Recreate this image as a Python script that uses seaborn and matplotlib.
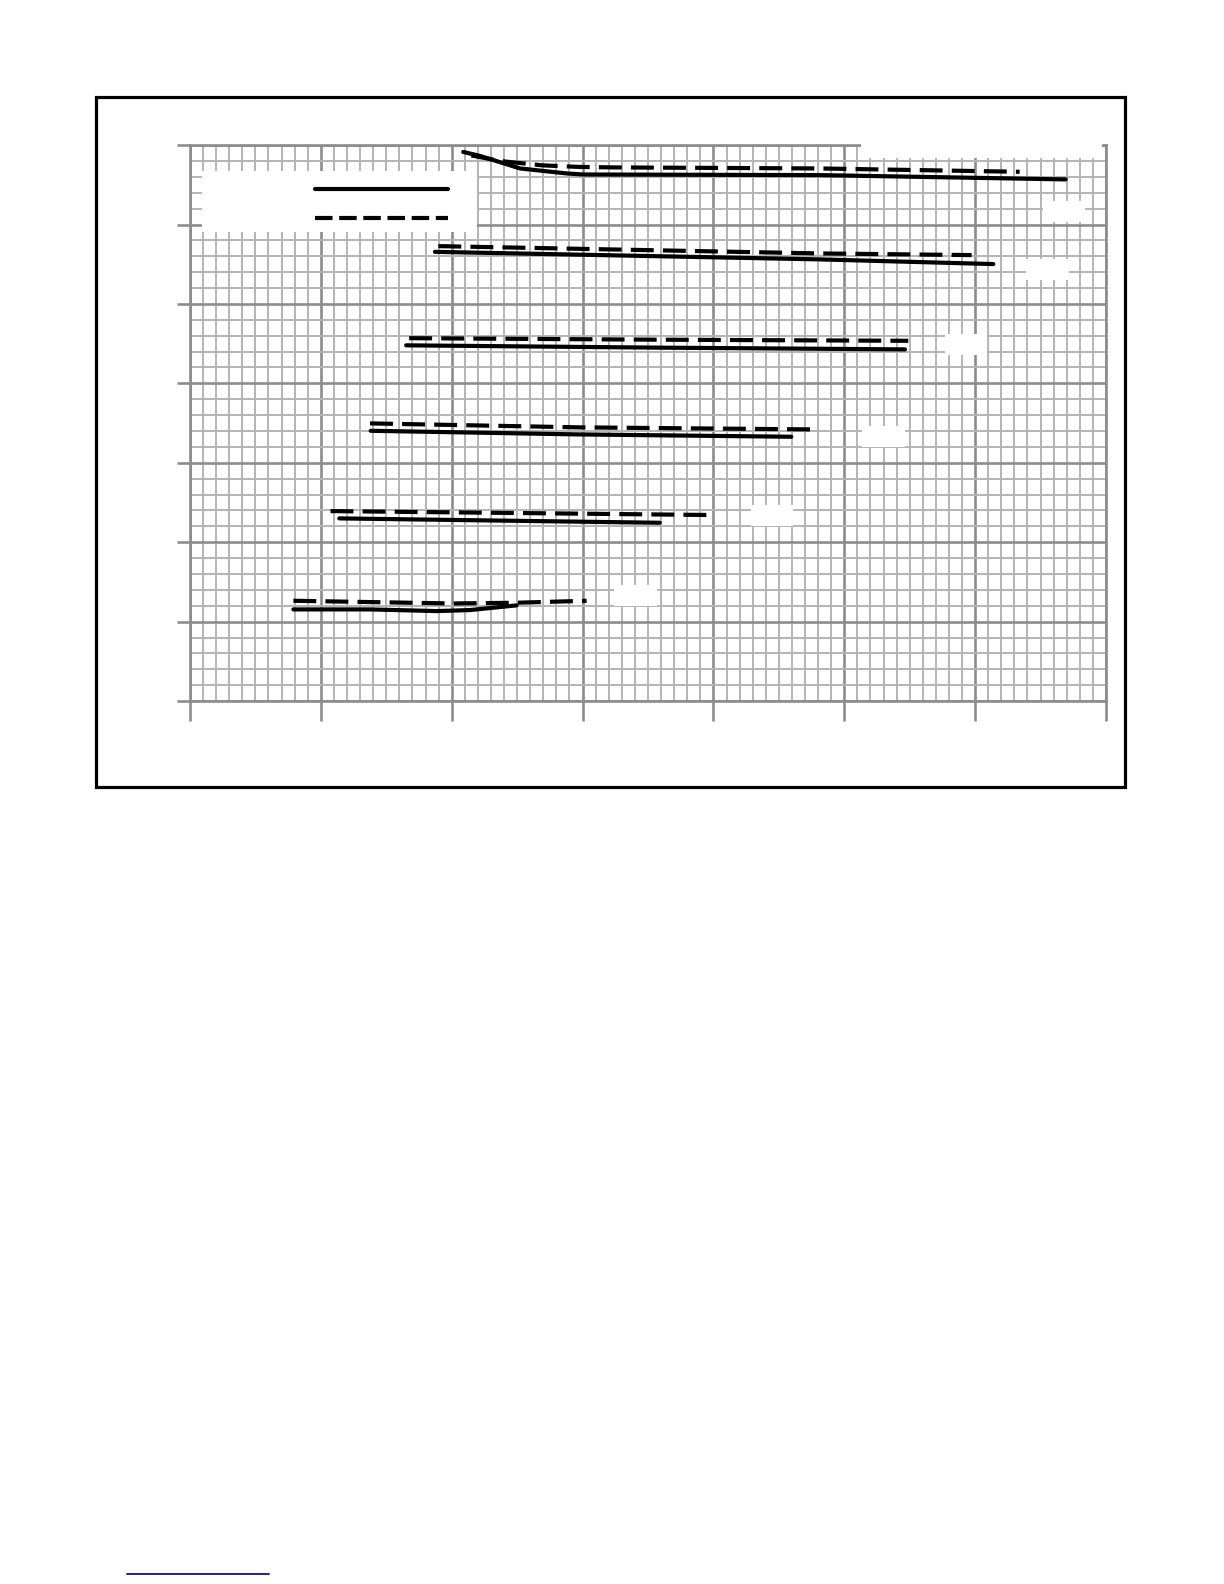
import matplotlib
matplotlib.use("Agg")
import matplotlib.pyplot as plt
import seaborn as sns
import pandas as pd
from matplotlib.patches import Rectangle
from matplotlib.lines import Line2D

# curve data (six pairs of solid/dashed curves)
g1_solid_x = [20.88, 22.16, 25.22, 28.79, 30.06, 48.14, 66.92]
g1_solid_y = [69.14, 68.64, 67.06, 66.43, 66.30, 66.22, 65.68]
g1_dash_x = [21.5, 23.7, 26.9, 29.6, 32.3, 48.1, 63.4]
g1_dash_y = [68.7, 68.0, 67.45, 67.26, 67.19, 67.06, 66.64]

g2_solid_x = [18.72, 48.14, 61.39]
g2_solid_y = [56.56, 55.61, 55.02]
g2_dash_x = [18.98, 48.14, 59.73]
g2_dash_y = [57.28, 56.36, 56.15]

g3_solid_x = [16.52, 35.7, 54.64]
g3_solid_y = [44.79, 44.5, 44.28]
g3_dash_x = [16.75, 35.7, 54.89]
g3_dash_y = [45.69, 45.5, 45.36]

g4_solid_x = [13.81, 29.82, 45.95]
g4_solid_y = [34.03, 33.57, 33.28]
g4_dash_x = [13.76, 29.82, 47.9]
g4_dash_y = [34.96, 34.46, 34.2]

g5_solid_x = [11.41, 35.9]
g5_solid_y = [23.0, 22.45]
g5_dash_x = [10.74, 40.1]
g5_dash_y = [23.92, 23.42]

g6_solid_x = [7.90, 13.76, 18.85, 21.40, 24.96]
g6_solid_y = [11.54, 11.54, 11.33, 11.46, 12.05]
g6_dash_x = [7.90, 20.0, 24.96, 30.31]
g6_dash_y = [12.63, 12.29, 12.38, 12.63]

legend_labels = ["Measured", "Calculated"]
curve_labels = ["Set 6", "Set 5", "Set 4", "Set 3", "Set 2", "Set 1"]
label_x = [66.79, 65.53, 59.3, 53.01, 44.47, 34.08]
label_y = [61.68, 54.38, 44.94, 33.36, 23.36, 13.34]

curves = [
    ("g1", g1_solid_x, g1_solid_y, g1_dash_x, g1_dash_y),
    ("g2", g2_solid_x, g2_solid_y, g2_dash_x, g2_dash_y),
    ("g3", g3_solid_x, g3_solid_y, g3_dash_x, g3_dash_y),
    ("g4", g4_solid_x, g4_solid_y, g4_dash_x, g4_dash_y),
    ("g5", g5_solid_x, g5_solid_y, g5_dash_x, g5_dash_y),
    ("g6", g6_solid_x, g6_solid_y, g6_dash_x, g6_dash_y),
]
rows = []
for name, sx, sy, dx, dy in curves:
    for x, y in zip(sx, sy):
        rows.append({"curve": name + "s", "kind": "solid", "x": x, "y": y})
    for x, y in zip(dx, dy):
        rows.append({"curve": name + "d", "kind": "dashed", "x": x, "y": y})
df = pd.DataFrame(rows)

sns.set_style("white")
plt.rcParams["font.family"] = ["DejaVu Sans"]

major_c = "#8c8c8c"
minor_c = "#b4b4b4"

fig = plt.figure(figsize=(12.24, 15.84), dpi=100)
ax = fig.add_axes([0.1552, 0.5574, 0.7484, 0.3510])

sns.lineplot(data=df, x="x", y="y", style="kind", units="curve", estimator=None,
             sort=False, color="black", lw=3,
             dashes={"solid": "", "dashed": (5.5, 2.2)},
             legend=False, ax=ax, zorder=3)

ax.set_xlim(0, 70)
ax.set_ylim(0, 70)
ax.set_xticks(range(0, 71, 10))
ax.set_xticks(range(0, 71, 1), minor=True)
ax.set_yticks(range(0, 71, 10))
ax.set_yticks(range(0, 71, 2), minor=True)
ax.set_axisbelow(True)
ax.grid(which="minor", color=minor_c, lw=1.4)
ax.grid(which="major", color=major_c, lw=1.9)
ax.set_xlabel("")
ax.set_ylabel("")
for sp in ax.spines.values():
    sp.set_color(major_c)
    sp.set_linewidth(1.9)
ax.tick_params(axis="x", which="major", bottom=True, length=14.4, width=1.9,
               color=major_c, labelcolor="white", direction="out")
ax.tick_params(axis="y", which="major", left=True, length=9.4, width=1.9,
               color=major_c, labelcolor="white", direction="out")
ax.tick_params(which="minor", length=0)

# legend: white box, labels on the left, line samples on the right
ax.add_patch(Rectangle((0.0131, 0.8435), 0.3002, 0.1097, transform=ax.transAxes,
                       fc="white", ec="none", zorder=4))
handles = [Line2D([], [], color="black", lw=3),
           Line2D([], [], color="black", lw=3, dashes=(4.2, 1.6))]
leg = ax.legend(handles, legend_labels, loc="center right",
                bbox_to_anchor=(0.2817, 0.8935), frameon=False, borderpad=0,
                borderaxespad=0, handlelength=7.97, fontsize=12,
                labelspacing=0.62, markerfirst=False, labelcolor="white")
leg.set_zorder(5)

# curve labels sit in white boxes
for s, lx, ly in zip(curve_labels, label_x, label_y):
    ax.text(lx, ly, s, color="white", fontsize=10, ha="center", va="center",
            bbox=dict(boxstyle="square,pad=0.25", fc="white", ec="none"), zorder=5)

ax.text(60.5, 70.6, "Temperature curves", color="white", fontsize=16.5,
        ha="center", va="center", clip_on=False,
        bbox=dict(boxstyle="square,pad=0.25", fc="white", ec="none"), zorder=6)

# outer frame and the link underline at the foot of the page
fig.add_artist(Rectangle((0.0784, 0.5032), 0.8407, 0.4356, transform=fig.transFigure,
                         fill=False, ec="black", lw=2.3))
fig.add_artist(Line2D([0.1038, 0.2198], [0.0063, 0.0063], transform=fig.transFigure,
                      color="#1f1f99", lw=1.4))

fig.savefig("out.png", dpi=100)
